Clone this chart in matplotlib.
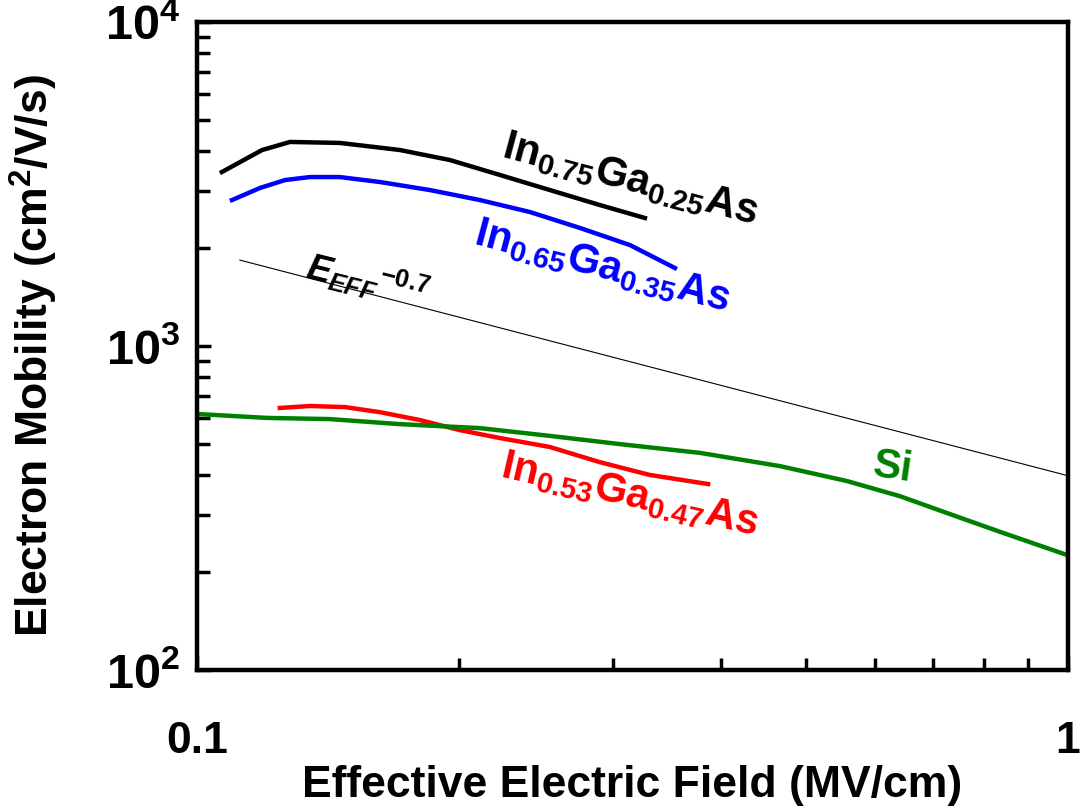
import math
import matplotlib
matplotlib.use('Agg')
import matplotlib.pyplot as plt
from matplotlib.ticker import LogLocator, NullFormatter, FuncFormatter

# data (field in MV/cm, mobility in cm2/V/s)
e_in75 = [0.1068, 0.1188, 0.1279, 0.1459, 0.171, 0.1952, 0.2228, 0.2542, 0.2902, 0.3268]
mu_in75 = [3444, 4027, 4265, 4235, 4027, 3750, 3372, 3030, 2723, 2484]

e_in65 = [0.1097, 0.1181, 0.1262, 0.1348, 0.1459, 0.1622, 0.1851, 0.2113, 0.2411, 0.2753, 0.3142, 0.3538]
mu_in65 = [2822, 3074, 3253, 3323, 3323, 3208, 3030, 2822, 2592, 2314, 2049, 1741]

e_in53 = [0.1245, 0.1348, 0.1479, 0.1622, 0.1803, 0.2004, 0.2228, 0.2542, 0.2902, 0.3311, 0.3862]
mu_in53 = [644, 653, 648, 625, 591, 550, 520, 488, 438, 400, 375]

e_si = [0.1, 0.1203, 0.1421, 0.171, 0.2113, 0.2542, 0.306, 0.378, 0.467, 0.5577, 0.6414, 0.7318, 0.8356, 1.0]
mu_si = [617, 600, 595, 574, 558, 528, 498, 468, 426, 383, 344, 303, 267, 226]

# E_EFF^-0.7 guide line
e_ref = [0.112, 1.0]
mu_ref = [1842, 1842 * (1.0 / 0.112) ** -0.7]

plt.rcParams['font.family'] = ['Liberation Sans', 'DejaVu Sans']
plt.rcParams['font.weight'] = 'bold'
plt.rcParams['mathtext.fontset'] = 'custom'
plt.rcParams['mathtext.rm'] = 'Liberation Sans:bold'
plt.rcParams['mathtext.bf'] = 'Liberation Sans:bold'
plt.rcParams['mathtext.it'] = 'Liberation Sans:italic:bold'

fig = plt.figure(figsize=(10.84, 8.10), dpi=100)
ax = fig.add_axes([0.1817, 0.1728, 0.8035, 0.8])

ax.plot(e_in75, mu_in75, color='black', lw=3.2)
ax.plot(e_in65, mu_in65, color='#0000FF', lw=3.2)
ax.plot(e_in53, mu_in53, color='#FF0000', lw=3.2)
ax.plot(e_si, mu_si, color='#008000', lw=3.2)
ax.plot(e_ref, mu_ref, color='black', lw=0.8)

ax.set_xscale('log')
ax.set_yscale('log')
ax.set_xlim(0.1, 1)
ax.set_ylim(100, 10000)

ax.xaxis.set_major_locator(LogLocator(base=10, numticks=5))
ax.xaxis.set_minor_locator(LogLocator(base=10, subs=range(2, 10), numticks=20))
ax.yaxis.set_minor_locator(LogLocator(base=10, subs=range(2, 10), numticks=20))
ax.xaxis.set_minor_formatter(NullFormatter())
ax.yaxis.set_minor_formatter(NullFormatter())
ax.xaxis.set_major_formatter(FuncFormatter(lambda v, p: '%g' % v))
ax.yaxis.set_major_formatter(FuncFormatter(lambda v, p: r'$\mathbf{10^{%d}}$' % round(math.log10(v))))

for s in ax.spines.values():
    s.set_linewidth(3.2)
ax.tick_params(which='both', direction='in', top=False, right=False, width=2.5, labelsize=32)
ax.tick_params(which='major', length=10)
ax.tick_params(which='minor', length=9)
ax.tick_params(axis='x', pad=37)
ax.tick_params(axis='y', pad=12, labelsize=35)

ax.set_xlabel('Effective Electric Field (MV/cm)', fontsize=32, fontweight='bold')
ax.set_ylabel(r'Electron Mobility (cm$^{2}$/V/s)', fontsize=32, fontweight='bold')
ax.xaxis.set_label_coords(0.5, -0.146)
ax.yaxis.set_label_coords(-0.157, 0.485)

kw = dict(ha='center', va='center', rotation_mode='anchor', fontsize=30)
ax.text(0.314, 3253, r'In$_{\mathit{0.75}}$Ga$_{\mathit{0.25}}$As', color='black', rotation=-15, **kw)
ax.text(0.292, 1760, r'In$_{\mathit{0.65}}$Ga$_{\mathit{0.35}}$As', color='#0000FF', rotation=-15, **kw)
ax.text(0.314, 347, r'In$_{\mathit{0.53}}$Ga$_{\mathit{0.47}}$As', color='#FF0000', rotation=-13, **kw)
ax.text(0.630, 420, 'Si', color='#008000', rotation=-8, **kw)
ax.text(0.157, 1598, r'$\mathit{E}_{\mathit{EFF}}$$^{-0.7}$', color='black', rotation=-14,
        ha='center', va='center', rotation_mode='anchor', fontsize=26)

plt.savefig('out.png', dpi=100)
